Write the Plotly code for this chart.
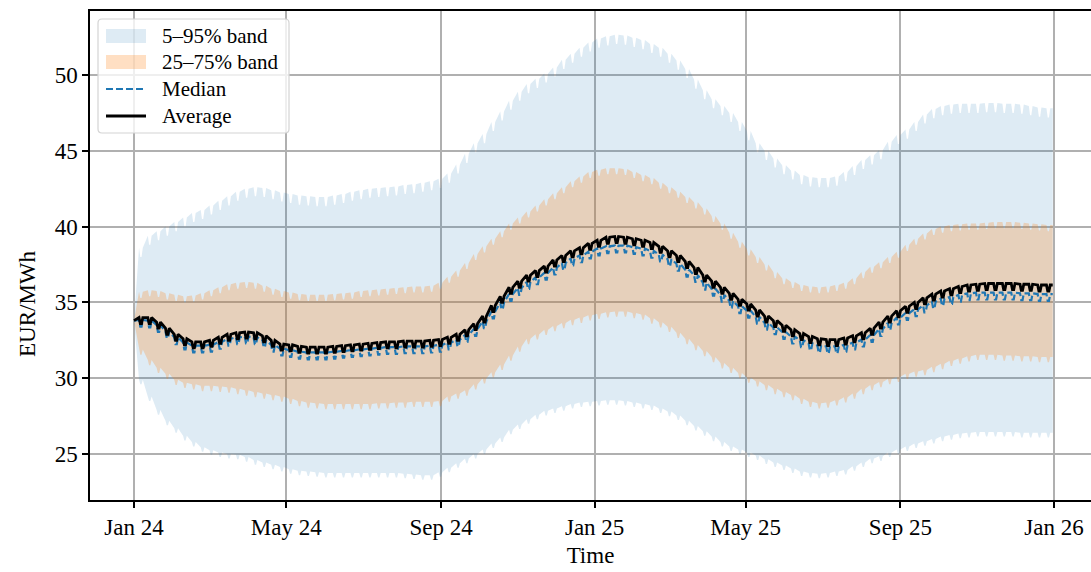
import numpy as np
import pandas as pd
import plotly.graph_objects as go

# Price scenarios in EUR/MWh. Each list holds the weekday level at the
# Monday of every calendar week (week 0 starts Mon 1 Jan 2024 at the spot
# price). The weekday run of week w leads up to the level of week w+1;
# Saturday and Sunday sit below that level by a series-specific dip.
START_DATE = "2024-01-01"
END_DATE = "2025-12-31"

tick_dates = ["2024-01-01", "2024-05-01", "2024-09-01", "2025-01-01",
              "2025-05-01", "2025-09-01", "2026-01-01"]
tick_labels = ["Jan 24", "May 24", "Sep 24", "Jan 25", "May 25", "Sep 25", "Jan 26"]
y_ticks = [25, 30, 35, 40, 45, 50]

weekend_dip = {"p5": 0.3, "p25": 0.35, "median": 0.45,
               "average": 0.4, "p75": 0.4, "p95": 0.6}

p5_weekly = [
    33.8, 29.9, 28.8, 27.9, 27.2, 26.7, 26.2, 25.8, 25.45, 25.25,
    25.1, 25.0, 24.95, 24.8, 24.6, 24.45, 24.3, 24.15, 24.0, 23.9,
    23.85, 23.8, 23.75, 23.75, 23.75, 23.75, 23.75, 23.75, 23.75, 23.75,
    23.75, 23.7, 23.65, 23.6, 23.6, 23.8, 24.1, 24.4, 24.7, 25.0,
    25.3, 25.7, 26.1, 26.6, 26.95, 27.3, 27.6, 27.85, 28.0, 28.15,
    28.3, 28.4, 28.45, 28.5, 28.55, 28.55, 28.5, 28.4, 28.3, 28.2,
    28.0, 27.8, 27.55, 27.2, 26.85, 26.5, 26.15, 25.8, 25.5, 25.3,
    25.1, 24.9, 24.65, 24.45, 24.25, 24.05, 23.85, 23.75, 23.7, 23.75,
    23.85, 23.95, 24.2, 24.45, 24.7, 24.85, 25.1, 25.3, 25.5, 25.7,
    25.85, 26.0, 26.15, 26.25, 26.35, 26.4, 26.45, 26.45, 26.45, 26.45,
    26.45, 26.4, 26.4, 26.4, 26.4,
]

p25_weekly = [
    33.8, 31.9, 31.2, 30.7, 30.3, 29.9, 29.7, 29.6, 29.5, 29.5,
    29.45, 29.4, 29.3, 29.2, 29.1, 29.0, 28.9, 28.8, 28.65, 28.5,
    28.4, 28.35, 28.3, 28.3, 28.3, 28.3, 28.3, 28.3, 28.35, 28.35,
    28.4, 28.4, 28.45, 28.45, 28.45, 28.5, 28.8, 29.0, 29.2, 29.6,
    30.0, 30.4, 30.9, 31.5, 32.1, 32.6, 32.9, 33.2, 33.45, 33.65,
    33.85, 34.0, 34.15, 34.25, 34.35, 34.4, 34.4, 34.3, 34.2, 33.95,
    33.7, 33.4, 33.0, 32.6, 32.2, 31.8, 31.4, 31.0, 30.7, 30.35,
    30.05, 29.8, 29.55, 29.3, 29.1, 28.9, 28.65, 28.45, 28.35, 28.4,
    28.55, 28.75, 29.0, 29.3, 29.55, 29.75, 29.95, 30.1, 30.3, 30.45,
    30.55, 30.75, 30.95, 31.15, 31.3, 31.45, 31.55, 31.55, 31.55, 31.5,
    31.5, 31.45, 31.45, 31.4, 31.4,
]

median_weekly = [
    33.8, 33.85, 33.8, 33.5, 33.1, 32.7, 32.35, 32.15, 32.15, 32.2,
    32.4, 32.6, 32.7, 32.75, 32.7, 32.5, 32.2, 31.95, 31.85, 31.75,
    31.7, 31.7, 31.7, 31.75, 31.8, 31.85, 31.9, 31.95, 32.0, 32.05,
    32.05, 32.1, 32.1, 32.1, 32.15, 32.2, 32.35, 32.55, 32.85, 33.25,
    33.75, 34.4, 35.0, 35.55, 35.95, 36.35, 36.65, 36.95, 37.3, 37.6,
    37.9, 38.1, 38.35, 38.55, 38.7, 38.75, 38.75, 38.65, 38.55, 38.4,
    38.15, 37.85, 37.55, 37.15, 36.8, 36.3, 35.9, 35.5, 35.1, 34.75,
    34.45, 34.05, 33.65, 33.35, 33.05, 32.75, 32.5, 32.3, 32.15, 32.1,
    32.1, 32.2, 32.35, 32.55, 32.85, 33.25, 33.65, 34.0, 34.3, 34.55,
    34.8, 35.05, 35.25, 35.35, 35.5, 35.6, 35.65, 35.65, 35.65, 35.65,
    35.65, 35.6, 35.6, 35.55, 35.55,
]

average_weekly = [
    33.8, 34.0, 34.0, 33.7, 33.3, 32.9, 32.6, 32.4, 32.4, 32.5,
    32.7, 32.9, 33.0, 33.05, 33.0, 32.8, 32.5, 32.25, 32.2, 32.1,
    32.05, 32.05, 32.05, 32.1, 32.15, 32.2, 32.25, 32.3, 32.35, 32.4,
    32.4, 32.45, 32.45, 32.45, 32.5, 32.55, 32.7, 32.9, 33.2, 33.6,
    34.1, 34.8, 35.4, 36.0, 36.4, 36.8, 37.1, 37.4, 37.8, 38.1,
    38.4, 38.6, 38.9, 39.1, 39.3, 39.35, 39.3, 39.2, 39.1, 38.95,
    38.7, 38.4, 38.1, 37.7, 37.3, 36.8, 36.4, 36.0, 35.6, 35.2,
    34.9, 34.5, 34.1, 33.8, 33.5, 33.2, 32.95, 32.75, 32.6, 32.55,
    32.55, 32.65, 32.8, 33.0, 33.3, 33.7, 34.1, 34.45, 34.75, 35.0,
    35.3, 35.55, 35.75, 35.9, 36.05, 36.15, 36.2, 36.25, 36.25, 36.25,
    36.25, 36.2, 36.2, 36.15, 36.15,
]

p75_weekly = [
    33.8, 35.7, 35.8, 35.75, 35.6, 35.5, 35.4, 35.45, 35.6, 35.8,
    36.0, 36.2, 36.3, 36.35, 36.3, 36.1, 35.9, 35.75, 35.65, 35.55,
    35.5, 35.5, 35.5, 35.55, 35.6, 35.65, 35.75, 35.8, 35.85, 35.9,
    35.95, 36.0, 36.05, 36.05, 36.1, 36.3, 36.7, 37.1, 37.6, 38.2,
    38.7, 39.2, 39.7, 40.2, 40.6, 41.0, 41.4, 41.8, 42.2, 42.6,
    43.0, 43.3, 43.6, 43.75, 43.85, 43.85, 43.8, 43.6, 43.4, 43.2,
    42.9, 42.6, 42.3, 41.95, 41.6, 41.2, 40.7, 40.2, 39.6, 39.0,
    38.5, 38.0, 37.5, 37.0, 36.6, 36.35, 36.15, 36.05, 36.0, 36.05,
    36.15, 36.3, 36.6, 37.0, 37.35, 37.65, 38.0, 38.35, 38.8, 39.2,
    39.55, 39.85, 40.0, 40.1, 40.15, 40.2, 40.2, 40.25, 40.3, 40.3,
    40.3, 40.25, 40.2, 40.15, 40.1,
]

p95_weekly = [
    33.8, 38.6, 39.4, 39.7, 40.0, 40.3, 40.6, 40.9, 41.1, 41.4,
    41.7, 42.0, 42.3, 42.5, 42.6, 42.55, 42.4, 42.25, 42.15, 42.05,
    42.0, 41.95, 41.95, 42.05, 42.15, 42.3, 42.4, 42.5, 42.55, 42.6,
    42.65, 42.75, 42.8, 42.9, 43.0, 43.15, 43.5, 44.1, 44.8, 45.5,
    46.1, 46.9, 47.6, 48.3, 48.9, 49.4, 49.75, 50.1, 50.5, 51.0,
    51.4, 51.8, 52.15, 52.4, 52.55, 52.65, 52.6, 52.45, 52.3, 52.05,
    51.8, 51.4, 50.95, 50.4, 49.7, 49.0, 48.4, 47.95, 47.5, 46.9,
    46.3, 45.5, 45.0, 44.5, 44.05, 43.7, 43.4, 43.25, 43.2, 43.2,
    43.3, 43.6, 44.0, 44.4, 44.7, 45.05, 45.6, 46.05, 46.4, 46.9,
    47.4, 47.75, 47.95, 48.05, 48.1, 48.1, 48.1, 48.15, 48.15, 48.1,
    48.1, 48.05, 47.95, 47.85, 47.8,
]

start = pd.Timestamp(START_DATE)
end = pd.Timestamp(END_DATE)
n_weeks = len(average_weekly)


def week_points(weekly, dip):
    """Monday, Friday, Saturday and Sunday points of every week."""
    xs, ys = [], []
    for w in range(n_weeks):
        monday = start + pd.Timedelta(days=7 * w)
        xs.append(monday)
        ys.append(weekly[w])
        if w + 1 < n_weeks:
            nxt = weekly[w + 1]
            for d, v in ((4, nxt), (5, nxt - dip), (6, nxt - dip)):
                xs.append(monday + pd.Timedelta(days=d))
                ys.append(v)
        else:
            xs.append(end)
            ys.append(weekly[w])
    return xs, ys


FONT = "Liberation Serif"
BLUE = "#1f77b4"

fig = go.Figure()


def add_series(weekly, key, **kw):
    xs, ys = week_points(weekly, weekend_dip[key])
    fig.add_trace(go.Scatter(x=xs, y=ys, mode="lines", showlegend=False,
                             hoverinfo="skip" if "name" not in kw else None, **kw))


add_series(p5_weekly, "p5", line=dict(width=0))
add_series(p95_weekly, "p95", line=dict(width=0), fill="tonexty",
           fillcolor="rgba(31,119,180,0.15)", name="5–95% band")
add_series(p25_weekly, "p25", line=dict(width=0))
add_series(p75_weekly, "p75", line=dict(width=0), fill="tonexty",
           fillcolor="rgba(255,127,14,0.25)", name="25–75% band")
add_series(median_weekly, "median", line=dict(color=BLUE, width=2.2, dash="7px,3px"),
           name="Median")
add_series(average_weekly, "average", line=dict(color="black", width=2.8),
           name="Average")

x_range = [start - pd.Timedelta(days=34.96), start + pd.Timedelta(days=760.4)]
y_range = [21.97, 54.22]

# Plot area in pixels: x 90..1091, y 11..500
PX0, PX1, PY0, PY1 = 90.0, 1091.0, 11.0, 500.0


def px(x):
    return (x - PX0) / (PX1 - PX0)


def py(y):
    return (PY1 - y) / (PY1 - PY0)


# Legend frame with rounded corners
bx0, bx1, by0, by1, r = 98, 289, 19, 133, 4
rx, ry = r / (PX1 - PX0), r / (PY1 - PY0)
L, R_, T, B = px(bx0), px(bx1), py(by0), py(by1)
frame = (f"M {L + rx},{T} L {R_ - rx},{T} Q {R_},{T} {R_},{T - ry} "
         f"L {R_},{B + ry} Q {R_},{B} {R_ - rx},{B} L {L + rx},{B} "
         f"Q {L},{B} {L},{B + ry} L {L},{T - ry} Q {L},{T} {L + rx},{T} Z")
shapes = [dict(type="path", path=frame, xref="paper", yref="paper",
               fillcolor="rgba(255,255,255,0.8)", line=dict(color="#d4d4d4", width=1.2),
               layer="above")]

legend_rows = [
    ("5–95% band", 36, "rect", "rgba(31,119,180,0.15)"),
    ("25–75% band", 62, "rect", "rgba(255,127,14,0.25)"),
    ("Median", 89, "dash", BLUE),
    ("Average", 116, "solid", "black"),
]
annotations = []
for label, cy, kind, color in legend_rows:
    if kind == "rect":
        shapes.append(dict(type="rect", xref="paper", yref="paper",
                           x0=px(106), x1=px(146), y0=py(cy - 7), y1=py(cy + 7),
                           fillcolor=color, line=dict(width=0), layer="above"))
    else:
        shapes.append(dict(type="line", xref="paper", yref="paper",
                           x0=px(106), x1=px(146), y0=py(cy), y1=py(cy),
                           line=dict(color=color, width=2.2 if kind == "dash" else 2.8,
                                     dash="7px,3px" if kind == "dash" else "solid"),
                           layer="above"))
    annotations.append(dict(text=label, xref="paper", yref="paper",
                            x=px(160), y=py(cy), xanchor="left", yanchor="middle",
                            showarrow=False, font=dict(family=FONT, size=21, color="black")))

# Axis title for the value axis
annotations.append(dict(text="EUR/MWh", xref="paper", yref="paper",
                        x=px(27), y=py(303), xanchor="center", yanchor="middle",
                        textangle=-90, showarrow=False,
                        font=dict(family=FONT, size=23, color="black")))

fig.update_layout(
    width=1091, height=572,
    margin=dict(l=90, r=0, t=11, b=72),
    paper_bgcolor="white", plot_bgcolor="white",
    font=dict(family=FONT, size=23, color="black"),
    showlegend=False,
    shapes=shapes,
    annotations=annotations,
    xaxis=dict(
        type="date", range=x_range,
        tickvals=pd.to_datetime(tick_dates), ticktext=tick_labels,
        showgrid=True, gridcolor="#b0b0b0", gridwidth=1.6,
        showline=True, linecolor="black", linewidth=1.5, mirror=True,
        ticks="outside", ticklen=6, tickwidth=1.5, tickcolor="black",
        zeroline=False,
        title=dict(text="Time", font=dict(family=FONT, size=23), standoff=8),
    ),
    yaxis=dict(
        range=y_range,
        tickvals=y_ticks,
        showgrid=True, gridcolor="#b0b0b0", gridwidth=1.6,
        showline=True, linecolor="black", linewidth=1.5,
        ticks="outside", ticklen=6, tickwidth=1.5, tickcolor="black",
        zeroline=False,
    ),
)

fig.write_html("out.html")
